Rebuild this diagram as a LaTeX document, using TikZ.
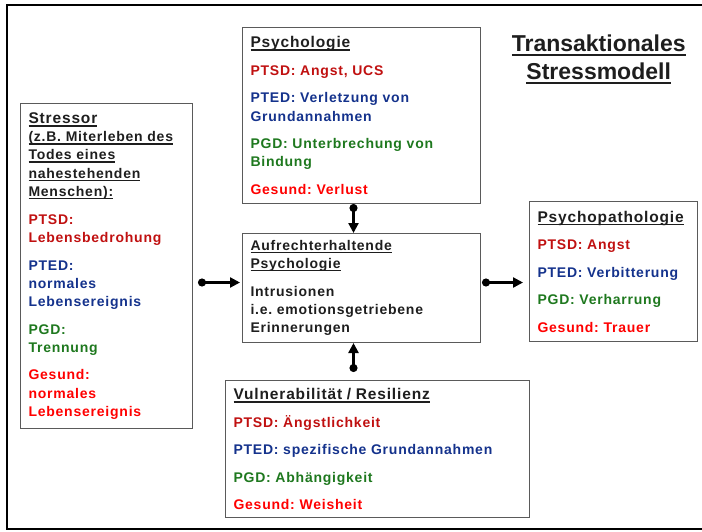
\documentclass[tikz,border=0pt]{standalone}
\usepackage{fontspec}
\setmainfont{Liberation Sans}[LetterSpace=5.5]
\newfontfamily\titlefont{Liberation Sans}
\usetikzlibrary{arrows.meta, positioning}
\definecolor{ptsd}{RGB}{192,16,16}
\definecolor{pted}{RGB}{20,50,140}
\definecolor{pgd}{RGB}{30,120,30}
\definecolor{gesund}{RGB}{255,0,0}
\definecolor{boxline}{RGB}{90,90,90}
\definecolor{plain}{RGB}{30,30,30}
\newcommand{\hdline}[1]{\leavevmode\sbox0{#1}\rlap{\rule[-0.2em]{\wd0}{0.1em}}\usebox0}
\newcommand{\hdbig}[1]{{\fontsize{15.5}{18.2}\selectfont\hdline{#1}}}
\frenchspacing

\begin{document}
\begin{tikzpicture}[x=1pt,y=-1pt,
	font=\fontsize{14}{18.2}\selectfont\bfseries,
	box/.style={draw=boxline,line width=1pt,anchor=north west,align=left,inner xsep=8pt,inner ysep=0pt,text=plain},
	conn/.style={line width=2.3pt,{Circle[length=8pt,width=8pt]}-{Triangle[length=10pt,width=10pt]}}]
			\useasboundingbox (0,0) rectangle (702,531);
			\draw[line width=2.3pt] (712,5.3) -- (7.3,5.3) -- (7.3,529.3) -- (712,529.3);
			\node[box,text width=156pt,minimum height=325pt] (stressor) at (20,103) {\hdbig{Stressor}\\ \hdline{(z.B. Miterleben des}\\ \hdline{Todes eines}\\ \hdline{nahestehenden}\\ \hdline{Menschen):}\\[10pt]
				\color{ptsd}PTSD:\\ Lebensbedrohung\\[9.3pt]
				\color{pted}PTED:\\ normales\\ Lebensereignis\\[9.3pt]
				\color{pgd}PGD:\\ Trennung\\[9.3pt]
				\color{gesund}Gesund:\\ normales\\ Lebensereignis};
			\node[box,text width=222pt,minimum height=176pt] (psych) at (242,27) {\hdbig{Psychologie}\\[9.3pt]
				\color{ptsd}PTSD: Angst, UCS\\[9.3pt]
				\color{pted}PTED: Verletzung von\\ Grundannahmen\\[9.3pt]
				\color{pgd}PGD: Unterbrechung von\\ Bindung\\[9.3pt]
				\color{gesund}Gesund: Verlust};
			\node[box,text width=222pt,minimum height=109pt] (aufr) at (242,233) {\hdline{Aufrechterhaltende}\\ \hdline{Psychologie}\\[10pt]
				Intrusionen\\ i.e. emotionsgetriebene\\ Erinnerungen};
			\node[box,text width=288pt,minimum height=137pt] (vuln) at (225,380) {\hdbig{Vulnerabilität / Resilienz}\\[9.3pt]
				\color{ptsd}PTSD: Ängstlichkeit\\[9.3pt]
				\color{pted}PTED: spezifische Grundannahmen\\[9.3pt]
				\color{pgd}PGD: Abhängigkeit\\[9.3pt]
				\color{gesund}Gesund: Weisheit};
			\node[box,text width=152pt,minimum height=140pt] (patho) at (529,201) {\hdbig{Psychopathologie}\\[9.3pt]
				\color{ptsd}PTSD: Angst\\[9.3pt]
				\color{pted}PTED: Verbitterung\\[9.3pt]
				\color{pgd}PGD: Verharrung\\[9.3pt]
				\color{gesund}Gesund: Trauer};
			\node[anchor=north,align=center,inner sep=0pt,font=\titlefont\fontsize{23}{28}\selectfont\bfseries,text=plain] (title) at (598.7,35) {\hdline{Transaktionales}\\ \hdline{Stressmodell}};
			\coordinate (in1) at ([yshift=5.5pt]aufr.west);
			\coordinate (out1) at ([yshift=5.5pt]aufr.east);
			\draw[conn,shorten <=5pt,shorten >=2pt] (stressor.east |- in1) -- (in1);
			\draw[conn] ([xshift=-8pt]psych.south) -- ([xshift=-8pt]aufr.north);
			\draw[conn,shorten <=8pt] ([xshift=-8pt]aufr.south |- vuln.north) -- ([xshift=-8pt]aufr.south);
			\draw[conn,shorten <=1pt,shorten >=6pt] (out1) -- (out1 -| patho.west);
		\end{tikzpicture}
\end{document}
